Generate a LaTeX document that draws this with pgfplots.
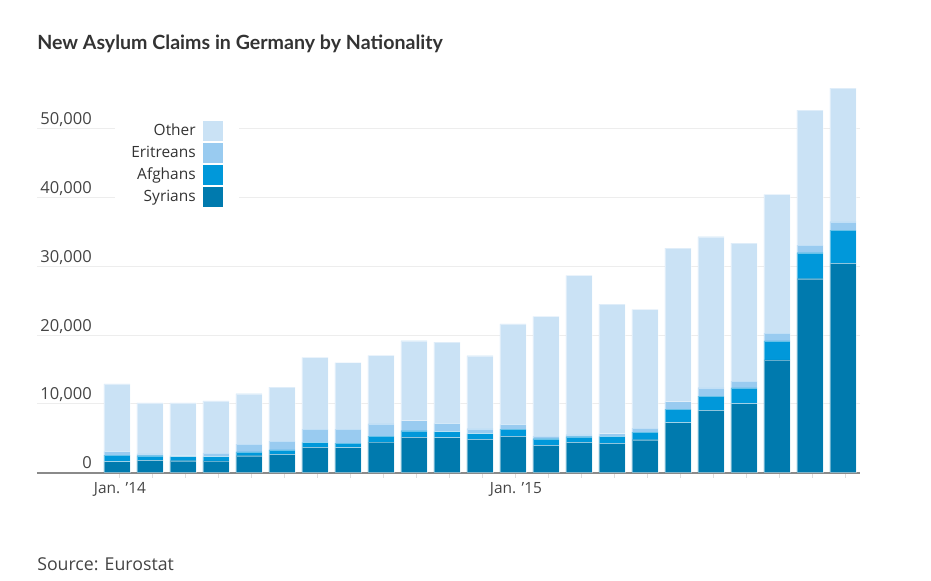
\documentclass[border=0pt]{standalone}
\usepackage{fontspec}
\setmainfont{Open Sans}
\newfontfamily\titlefont{Lato}
\usepackage{pgfplots}
\usepackage{pgfplotstable}
\pgfplotsset{compat=1.18}
\definecolor{cSyr}{HTML}{007AAE}
\definecolor{cAfg}{HTML}{0098DA}
\definecolor{cEri}{HTML}{99CBF0}
\definecolor{cOth}{HTML}{CAE2F5}
\definecolor{txt}{HTML}{333333}
\definecolor{lbl}{HTML}{444444}
\definecolor{gridc}{HTML}{EDEDED}
\definecolor{axisc}{HTML}{8A8A8A}
\definecolor{tickc}{HTML}{DDDDDD}

\pgfplotstableread{
i syr afg eri oth
0 1600 970 540 9790
1 1800 670 250 7410
2 1740 590 200 7600
3 1700 630 530 7560
4 2470 540 1160 7310
5 2670 630 1300 7850
6 3690 720 1940 10420
7 3640 670 2040 9640
8 4460 870 1750 9980
9 5140 960 1460 11620
10 5090 870 1220 11810
11 4850 820 720 10610
12 5290 1060 680 14580
13 3980 960 390 17390
14 4410 820 290 23160
15 4270 1020 380 18840
16 4790 1120 580 17250
17 7270 1980 1070 22330
18 9060 2080 1210 21940
19 10030 2280 1010 20050
20 16380 2760 1160 20150
21 28190 3780 1110 19600
22 30420 4840 1210 19430
}\data

\pgfplotsset{
  myleg/.style={legend image code/.code={\fill[##1,draw=none] (0pt,-7.5pt) rectangle (15pt,7.5pt);}},
}

\begin{document}
\begin{tikzpicture}
\useasboundingbox (0,0) rectangle (698.25pt,435.75pt);
\node[anchor=base west, inner sep=0pt, text=txt, font=\titlefont\fontsize{14.7}{17}\selectfont\bfseries] at (27.75pt,398.8pt) {New Asylum Claims in Germany by Nationality};
\node[anchor=base west, inner sep=0pt, text=lbl, font=\fontsize{13.3}{15}\selectfont] at (27.75pt,7.7pt) {Source: Eurostat};
\begin{axis}[
  at={(27.75pt,81.225pt)}, anchor=south west,
  scale only axis, width=617.25pt, height=289pt,
  xmin=-2.424, xmax=22.515, ymin=0, ymax=56000,
  axis line style={draw=none},
  ybar stacked, bar width=0.79,
  ytick={10000,20000,30000,40000,50000},
  extra y ticks={0},
  extra y tick style={grid style={draw=axisc, line width=1.5pt}},
  ymajorgrids, grid style={draw=gridc, line width=0.75pt},
  scaled y ticks=false,
  /pgf/number format/assume math mode=true,
  /pgf/number format/1000 sep={,},
  ytick style={draw=none},
  ytick pos=left, xtick pos=bottom,
  tick align=outside, major tick length=3.75pt,
  xtick style={draw=tickc, line width=0.75pt},
  xtick={0.09,1.09,...,22.09},
  xticklabels={Jan. ’14,,,,,,,,,,,,Jan. ’15},
  ticklabel style={font=\fontsize{11.6}{13}\selectfont, text=lbl},
  yticklabel style={anchor=base east, inner sep=0pt, xshift=45pt, yshift=3pt, font=\fontsize{12.4}{14}\selectfont},
  legend style={at={(0.2454,0.934)}, anchor=north east, fill=white, draw=none,
    font=\fontsize{11.6}{13}\selectfont, text=txt, row sep=1.5pt, column sep=5.25pt,
    inner xsep=12pt, inner ysep=6pt, nodes={inner sep=0pt}},
  legend cell align=right, legend plot pos=right, reverse legend,
]
\addplot[fill=cSyr, draw=white, draw opacity=0.4, line width=0.3pt, myleg] table[x=i,y=syr] {\data};
\addplot[fill=cAfg, draw=white, draw opacity=0.4, line width=0.3pt, myleg] table[x=i,y=afg] {\data};
\addplot[fill=cEri, draw=white, draw opacity=0.4, line width=0.3pt, myleg] table[x=i,y=eri] {\data};
\addplot[fill=cOth, draw=white, draw opacity=0.4, line width=0.3pt, myleg] table[x=i,y=oth] {\data};
\legend{Syrians,Afghans,Eritreans,Other}
\end{axis}
\end{tikzpicture}
\end{document}
